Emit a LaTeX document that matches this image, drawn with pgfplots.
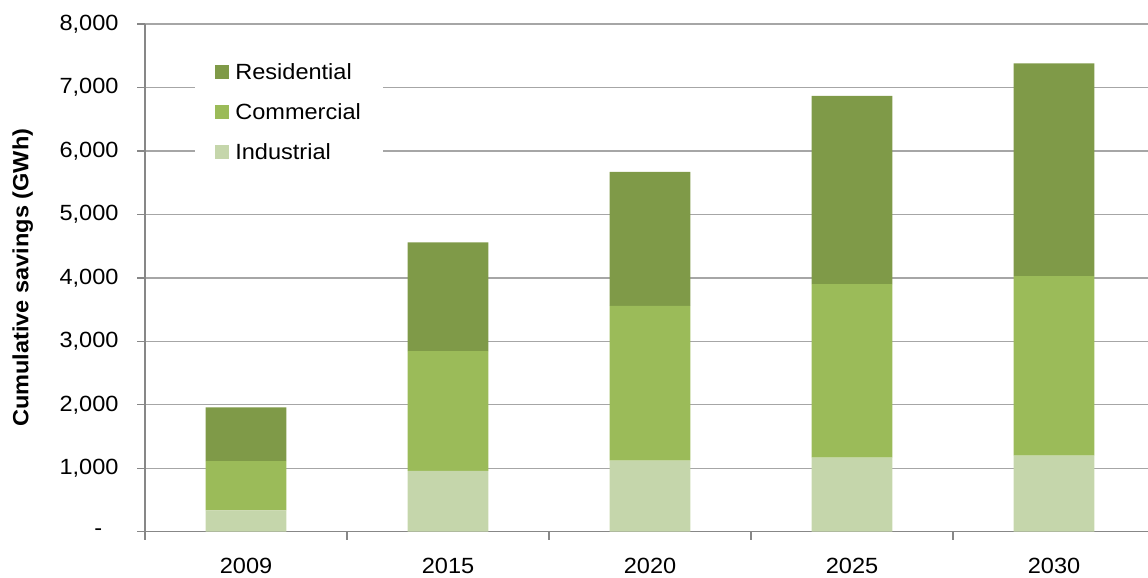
\documentclass[border=0pt]{standalone}
\usepackage{pgfplots}
\pgfplotsset{compat=1.18}
\usepackage{fontspec}
\setmainfont{Liberation Sans}[FakeStretch=1.07]
\definecolor{res}{HTML}{7F9A48}
\definecolor{com}{HTML}{9BBB59}
\definecolor{ind}{HTML}{C5D6AB}
\definecolor{gridc}{HTML}{A6A6A6}
\definecolor{axc}{HTML}{878787}
\pgfplotstableread{
x ind com res
0 337 777 846
1 957 1890 1713
2 1119 2438 2111
3 1166 2737 2963
4 1198 2831 3352
}\savings
\pgfplotsset{sqleg/.style={legend image code/.code={\fill[##1,draw=none] (0pt,-7pt) rectangle (14pt,7pt);\path (18pt,0pt);}}}
\begin{document}
\begin{tikzpicture}[font=\fontsize{22pt}{26pt}\selectfont]
\useasboundingbox (0,0) rectangle (1148pt,578pt);
\begin{axis}[
  at={(145pt,46.3pt)}, anchor=south west,
  scale only axis, width=1003pt, height=507.7pt,
  ybar stacked, bar width=0.4,
  xmin=-0.5, xmax=4.465, ymin=0, ymax=8000,
  axis lines*=left,
  axis line style={draw=axc, line width=1.3pt},
  ymajorgrids, grid style={draw=gridc, line width=1.3pt},
  ytick={0,1000,...,8000},
  yticklabels={{\makebox[24pt][l]{-}},{1,000},{2,000},{3,000},{4,000},{5,000},{6,000},{7,000},{8,000}},
  yticklabel style={xshift=-15pt},
  xtick={0,1,2,3,4}, xticklabels={2009,2015,2020,2025,2030},
  xticklabel style={yshift=-15pt},
  minor xtick={-0.5,0.5,1.5,2.5,3.5},
  tick align=outside, major tick length=8pt, minor tick length=8pt,
  tick style={draw=axc, line width=1.3pt},
  major x tick style={draw=none},
  ylabel={\bfseries Cumulative savings (GWh)},
  ylabel style={at={(axis description cs:-0.122,0.5)}, anchor=center, rotate=0},
  legend style={at={(0.05,0.95)}, anchor=north west, draw=none, fill=white,
    inner xsep=20pt, inner ysep=12pt, row sep=18.5pt, font=\fontsize{22pt}{26pt}\selectfont},
  legend cell align=left, reverse legend,
]
\addplot[fill=ind, draw=none, sqleg] table[x=x, y=ind] {\savings};
\addplot[fill=com, draw=none, sqleg] table[x=x, y=com] {\savings};
\addplot[fill=res, draw=none, sqleg] table[x=x, y=res] {\savings};
\legend{Industrial, Commercial, Residential}
\end{axis}
\end{tikzpicture}
\end{document}
